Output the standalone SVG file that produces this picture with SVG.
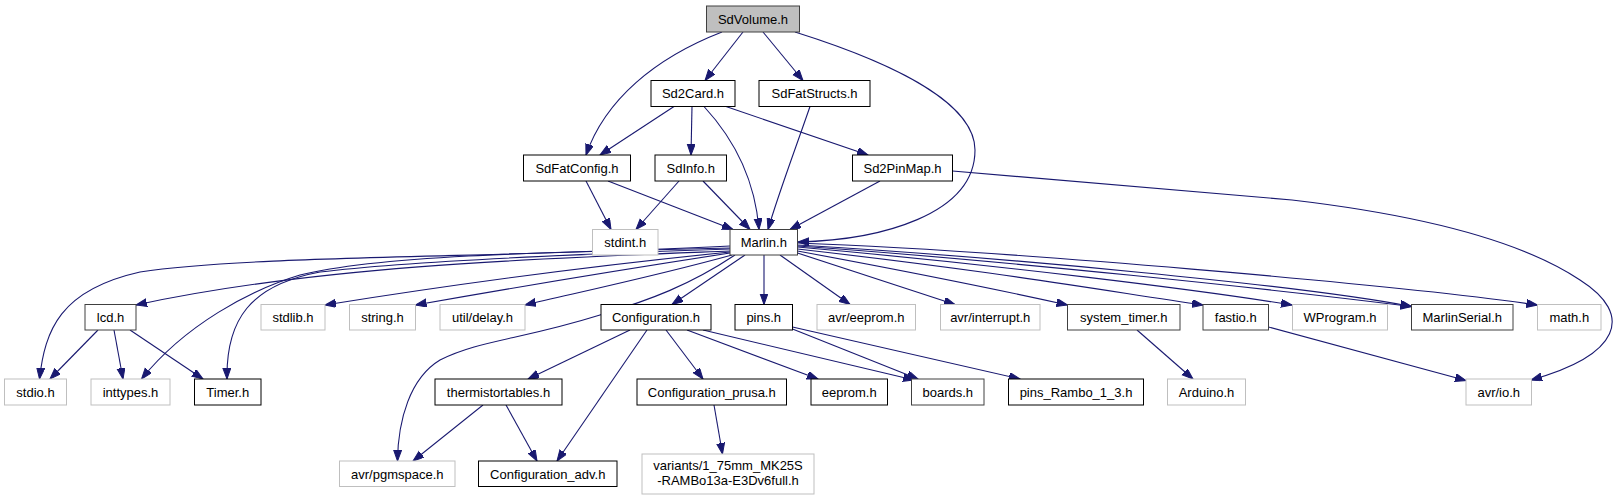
<svg xmlns="http://www.w3.org/2000/svg" width="1624" height="500" viewBox="0 0 1624 500">
<style>
.n rect{fill:#fff;stroke:#000;stroke-width:1}
.n.g rect{stroke:#bfbfbf}
.n.d rect{stroke:#404040}
.n.r rect{fill:#bfbfbf;stroke:#404040}
.n text{font-family:"Liberation Sans",Arial,sans-serif;font-size:13px;fill:#000;text-anchor:middle}
#edges path{fill:none;stroke:#191970;stroke-width:1.1;marker-end:url(#a)}
</style>
<defs>
<marker id="a" markerUnits="userSpaceOnUse" markerWidth="13" markerHeight="10" refX="11" refY="4" orient="auto"><path d="M0,0 L11,4 L0,8 z" fill="#191970" stroke="#191970" stroke-width="1"/></marker>
</defs>
<rect width="1624" height="500" fill="#fff"/>
<g id="edges">
<path d="M722,32 C655,58 605,100 586,155"/>
<path d="M743,32 L705,80.5"/>
<path d="M763,32 L803,80.5"/>
<path d="M795,32 C900,65 975,105 975,150 C975,215 880,240 798,242"/>
<path d="M674,106.5 L600,155"/>
<path d="M692,106.5 L691,155"/>
<path d="M704,106.5 C735,140 755,180 759,229.5"/>
<path d="M726,106.5 L868,155"/>
<path d="M810,106.5 C795,150 778,195 768,229.5"/>
<path d="M586,181 L611,229.5"/>
<path d="M608,181 L733,229.5"/>
<path d="M679,181 L636,229.5"/>
<path d="M703,181 L750,229.5"/>
<path d="M880,181 L790,229.5"/>
<path d="M952.5,171 L1292,200 C1420,215 1520,240 1580,280 C1635,315 1620,355 1531,380"/>
<path d="M730,246 C500,258 250,255 140,272 C60,290 45,330 39.5,379"/>
<path d="M730,248 C550,252 380,255 300,275 C250,290 185,325 141.5,379"/>
<path d="M730,249 C550,255 400,262 320,272 C250,285 226,320 227,379"/>
<path d="M730,251 C550,258 320,265 136,305"/>
<path d="M730,252 C600,265 450,285 325,305"/>
<path d="M730,253 C620,270 500,290 415.5,305"/>
<path d="M732,255 C660,275 580,292 525,305"/>
<path d="M735,255 C690,285 650,300 600,315 C520,340 480,340 440,360 C410,378 398,420 397.5,461"/>
<path d="M745,255 L672,304.5"/>
<path d="M764,255 L764,304.5"/>
<path d="M780,255 L850,304.5"/>
<path d="M797.5,253 L955,304.5"/>
<path d="M797.5,251 C900,270 1000,290 1067.5,305"/>
<path d="M797.5,249 C1000,272 1100,290 1203,305"/>
<path d="M797.5,247 C1000,265 1200,290 1292,305"/>
<path d="M797.5,245 C1000,257 1300,285 1411.5,306.5"/>
<path d="M797.5,246 C1000,260 1280,290 1411.5,306.5"/>
<path d="M797.5,243 C1000,250 1400,285 1537.5,305"/>
<path d="M98,330 L50,379"/>
<path d="M114,330 L123,379"/>
<path d="M130,330 L203,379"/>
<path d="M630,330 L528,379"/>
<path d="M647,330 L557,461"/>
<path d="M666,330 L703,379"/>
<path d="M687,330 L818,379"/>
<path d="M703,330 L914,380"/>
<path d="M792.5,329 L918,379"/>
<path d="M792.5,327 L1020,379"/>
<path d="M714,405 L722.5,454"/>
<path d="M483,405 L413,461"/>
<path d="M506,405 L537,461"/>
<path d="M1137,330 L1193,379"/>
<path d="M1268.5,327 L1466,380.5"/>
</g>
<g id="SdVolume" class="n r"><rect x="706.5" y="6" width="93" height="26"/><text x="753" y="23.5">SdVolume.h</text></g>
<g id="Sd2Card" class="n"><rect x="651" y="80.5" width="84" height="26"/><text x="693" y="98">Sd2Card.h</text></g>
<g id="SdFatStructs" class="n"><rect x="759" y="80.5" width="111" height="26"/><text x="814.5" y="98">SdFatStructs.h</text></g>
<g id="SdFatConfig" class="n"><rect x="523.5" y="155" width="107" height="26"/><text x="577" y="172.5">SdFatConfig.h</text></g>
<g id="SdInfo" class="n"><rect x="655" y="155" width="71.5" height="26"/><text x="690.75" y="172.5">SdInfo.h</text></g>
<g id="Sd2PinMap" class="n"><rect x="852.5" y="155" width="100" height="26"/><text x="902.5" y="172.5">Sd2PinMap.h</text></g>
<g id="stdint" class="n g"><rect x="592.5" y="229.5" width="65.5" height="25.5"/><text x="625.25" y="246.5">stdint.h</text></g>
<g id="Marlin" class="n d"><rect x="730" y="229.5" width="67.5" height="25.5"/><text x="763.75" y="246.5">Marlin.h</text></g>
<g id="lcd" class="n d"><rect x="85" y="304.5" width="51" height="25.5"/><text x="110.5" y="321.5">lcd.h</text></g>
<g id="stdlib" class="n g"><rect x="261" y="304.5" width="64" height="25.5"/><text x="293" y="321.5">stdlib.h</text></g>
<g id="string" class="n g"><rect x="349.5" y="304.5" width="66" height="25.5"/><text x="382.5" y="321.5">string.h</text></g>
<g id="utildelay" class="n g"><rect x="440" y="304.5" width="85" height="25.5"/><text x="482.5" y="321.5">util/delay.h</text></g>
<g id="Configuration" class="n"><rect x="601" y="304.5" width="110" height="25.5"/><text x="656" y="321.5">Configuration.h</text></g>
<g id="pins" class="n"><rect x="735" y="304.5" width="57.5" height="25.5"/><text x="763.75" y="321.5">pins.h</text></g>
<g id="avreeprom" class="n g"><rect x="817" y="304.5" width="98.5" height="25.5"/><text x="866.25" y="321.5">avr/eeprom.h</text></g>
<g id="avrinterrupt" class="n g"><rect x="940.5" y="304.5" width="99.5" height="25.5"/><text x="990.25" y="321.5">avr/interrupt.h</text></g>
<g id="system_timer" class="n d"><rect x="1067.5" y="304.5" width="112.5" height="25.5"/><text x="1123.75" y="321.5">system_timer.h</text></g>
<g id="fastio" class="n d"><rect x="1203" y="304.5" width="65.5" height="25.5"/><text x="1235.75" y="321.5">fastio.h</text></g>
<g id="WProgram" class="n g"><rect x="1292.5" y="304.5" width="95" height="25.5"/><text x="1340" y="321.5">WProgram.h</text></g>
<g id="MarlinSerial" class="n d"><rect x="1411.5" y="304.5" width="101.5" height="25.5"/><text x="1462.25" y="321.5">MarlinSerial.h</text></g>
<g id="math" class="n g"><rect x="1537.5" y="304.5" width="63.5" height="25.5"/><text x="1569.25" y="321.5">math.h</text></g>
<g id="stdio" class="n g"><rect x="4.5" y="379" width="62" height="26"/><text x="35.5" y="396.5">stdio.h</text></g>
<g id="inttypes" class="n g"><rect x="91" y="379" width="79" height="26"/><text x="130.5" y="396.5">inttypes.h</text></g>
<g id="Timer" class="n"><rect x="194.5" y="379" width="66.5" height="26"/><text x="227.75" y="396.5">Timer.h</text></g>
<g id="thermistortables" class="n"><rect x="435" y="379" width="127" height="26"/><text x="498.5" y="396.5">thermistortables.h</text></g>
<g id="Configuration_prusa" class="n"><rect x="637" y="379" width="149.5" height="26"/><text x="711.75" y="396.5">Configuration_prusa.h</text></g>
<g id="eeprom" class="n"><rect x="811" y="379" width="76.5" height="26"/><text x="849.25" y="396.5">eeprom.h</text></g>
<g id="boards" class="n d"><rect x="911.5" y="379" width="72.5" height="26"/><text x="947.75" y="396.5">boards.h</text></g>
<g id="pins_Rambo" class="n"><rect x="1008.5" y="379" width="135" height="26"/><text x="1076" y="396.5">pins_Rambo_1_3.h</text></g>
<g id="Arduino" class="n g"><rect x="1167.5" y="379" width="78" height="26"/><text x="1206.5" y="396.5">Arduino.h</text></g>
<g id="avrio" class="n g"><rect x="1466" y="379" width="65.5" height="26"/><text x="1498.75" y="396.5">avr/io.h</text></g>
<g id="avrpgmspace" class="n g"><rect x="339.5" y="461" width="115.5" height="25.5"/><text x="397.25" y="478.5">avr/pgmspace.h</text></g>
<g id="Configuration_adv" class="n"><rect x="478.5" y="461" width="138.5" height="25.5"/><text x="547.75" y="478.5">Configuration_adv.h</text></g>
<g id="variants" class="n g"><rect x="642" y="454" width="172" height="40"/><text x="728" y="470">variants/1_75mm_MK25S</text><text x="728" y="485">-RAMBo13a-E3Dv6full.h</text></g>
</svg>
